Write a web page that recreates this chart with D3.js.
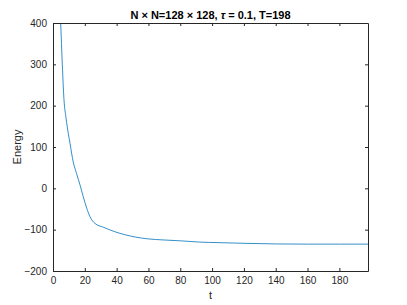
<!DOCTYPE html>
<html><head><meta charset="utf-8">
<script src="https://cdn.jsdelivr.net/npm/d3@7"></script>
<style>body{margin:0;background:#fff}svg{display:block}text{font-family:"Liberation Sans",Arial,sans-serif}</style>
</head><body><svg id="c" width="407" height="305"></svg>
<script>
const tVals = [3.5, 4.83, 5.85, 6.9, 8.2, 9.6, 10.7, 11.7, 12.7, 14.8, 17.0, 19.0, 21.2, 23.3, 26.4, 31.6, 38.9, 45, 52, 59, 70, 80, 92, 105, 120, 140, 160, 180, 198];
const eVals = [500, 400, 300, 215, 170, 133, 109, 85, 64, 36, 8, -20, -48, -69, -85, -94, -105, -112, -118, -122, -125, -127, -130, -131.5, -133, -134.5, -135, -135, -135];
const xTicks = [0, 20, 40, 60, 80, 100, 120, 140, 160, 180];
const yTicks = [-200, -100, 0, 100, 200, 300, 400];

const svg = d3.select("#c");
const L = 53, R = 368, T = 23, B = 271;
const x = d3.scaleLinear().domain([0, 198]).range([L, R]);
const y = d3.scaleLinear().domain([-200, 400]).range([B, T]);
const axCol = "#262626";

svg.append("clipPath").attr("id", "clip").append("rect")
  .attr("x", L).attr("y", T).attr("width", R - L).attr("height", B - T);

const data = tVals.map((t, i) => [t, eVals[i]]);
svg.append("path").datum(data)
  .attr("clip-path", "url(#clip)")
  .attr("fill", "none").attr("stroke", "#0072BD").attr("stroke-width", 0.8)
  .attr("d", d3.line().x(d => x(d[0])).y(d => y(d[1])).curve(d3.curveMonotoneX));

function styleAxis(g) {
  g.select(".domain").attr("stroke", axCol);
  g.selectAll(".tick line").attr("stroke", axCol);
  g.selectAll(".tick text").attr("fill", axCol).attr("font-size", 10);
}
svg.append("g").attr("transform", `translate(0,${B})`)
  .call(d3.axisBottom(x).tickValues(xTicks).tickSize(-3).tickPadding(6).tickSizeOuter(0)).call(styleAxis);
svg.append("g").attr("transform", `translate(0,${T})`)
  .call(d3.axisTop(x).tickValues(xTicks).tickSize(-3).tickFormat("").tickSizeOuter(0)).call(styleAxis);
svg.append("g").attr("transform", `translate(${L},0)`)
  .call(d3.axisLeft(y).tickValues(yTicks).tickSize(-3).tickPadding(6).tickSizeOuter(0)).call(styleAxis);
svg.append("g").attr("transform", `translate(${R},0)`)
  .call(d3.axisRight(y).tickValues(yTicks).tickSize(-3).tickFormat("").tickSizeOuter(0)).call(styleAxis);

svg.append("text").attr("x", (L + R) / 2).attr("y", 299).attr("text-anchor", "middle")
  .attr("font-size", 11).attr("fill", axCol).text("t");
svg.append("text").attr("transform", `translate(21,${(T + B) / 2}) rotate(-90)`).attr("text-anchor", "middle")
  .attr("font-size", 11).attr("fill", axCol).text("Energy");

const title = svg.append("text").attr("x", (L + R) / 2).attr("y", 19).attr("text-anchor", "middle")
  .attr("font-size", 11).attr("font-weight", "bold").attr("fill", "#000");
title.append("tspan").text("N \u00d7 N=128 \u00d7 128, ");
title.append("tspan").attr("font-style", "italic").text("\u03c4");
title.append("tspan").text(" = 0.1, T=198");
</script></body></html>
